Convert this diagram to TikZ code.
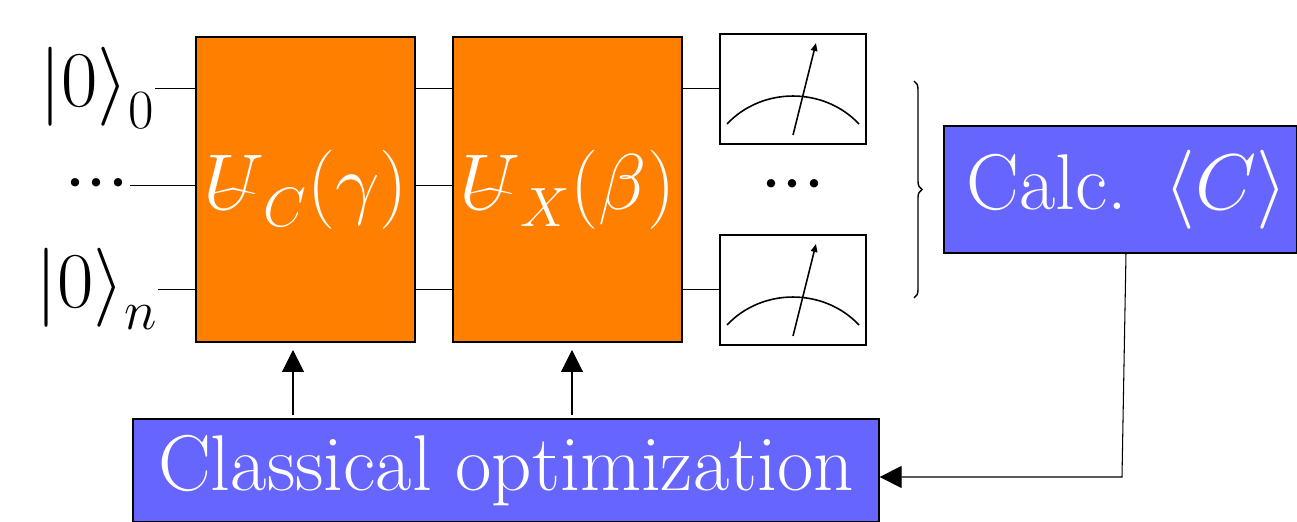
\documentclass[tikz,border=0pt]{standalone}
\usepackage{fix-cm}
\usepackage{amsmath,amssymb}
\usepackage{graphicx}
\usepackage{xcolor}
\usetikzlibrary{arrows.meta,positioning,calc,decorations.pathreplacing}
\definecolor{gateorange}{HTML}{FF8000}
\definecolor{classblue}{HTML}{6666FF}
\newcommand{\flathat}{\mathord{\ooalign{$U$\cr\hidewidth\raisebox{-0.18em}{\scalebox{1}[0.45]{$\widehat{\phantom{U}}$}}\hidewidth\cr}}}
\newcommand{\bigdots}{{\cdot}{\cdot}{\cdot}}
\tikzset{
  gatebox/.style={draw, line width=1.1pt, fill=gateorange, text=white, minimum height=6.1cm, inner sep=0pt},
  classbox/.style={draw, line width=0.7pt, fill=classblue, text=white, inner sep=0pt},
  meterbox/.style={draw, line width=1.1pt, minimum width=2.92cm, minimum height=2.2cm, inner sep=0pt},
  wire/.style={line width=1.1pt},
  feedback/.style={line width=0.6pt, -{Triangle[length=0.44cm,width=0.44cm]}},
}
\begin{document}
\begin{tikzpicture}[x=0.2mm, y=-0.2mm, font=\fontsize{45}{50}\selectfont]
\useasboundingbox (0,0) rectangle (1297,522);
% gates
\node[gatebox, minimum width=4.38cm] (gateC) at (305.5,189.5) {$\flathat_C(\gamma)$};
\node[gatebox, minimum width=4.58cm] (gateX) at (567.5,189.5) {$\flathat_X(\beta)$};
% classical part
\node[classbox, minimum width=14.92cm, minimum height=2.06cm] (optim) at (506,470.5) {Classical optimization};
\node[classbox, minimum width=7.06cm, minimum height=2.54cm] (calc) at (1120.5,189.5) {\hspace*{0.26cm}Calc.\ \,$\langle C\rangle$};
% inputs
\node[anchor=east, inner sep=0pt] (inA) at (155,88) {$\left|0\right\rangle_0$};
\node[anchor=east, inner sep=0pt] (inB) at (158,289) {$\left|0\right\rangle_n$};
\node[inner sep=0pt] (inDots) at (97,185) {$\bigdots$};
% meters
\foreach \name/\y in {meterA/89,meterB/290} {
  \node[meterbox] (\name) at (793,\y) {};
  \begin{scope}[shift={(\name.center)}, line width=0.9pt]
    \draw (-66,35) .. controls (-31,-2.3) and (31,-2.3) .. (66,35);
    \draw[-{Triangle[length=0.16cm,width=0.13cm]}] (0,46) -- (23,-46);
  \end{scope}
}
\node[inner sep=0pt] (outDots) at (793,186) {$\bigdots$};
% wires
\draw[wire] (gateC.west |- 0,88.5) -- (inA.east |- 0,88.5);
\draw[wire] (gateC.west |- 0,289.5) -- (inB.east |- 0,289.5);
\draw[wire] (gateC.west |- 0,185.5) -- (130,185.5);
\foreach \y in {88.5,185.5,289.5} {
  \draw[wire] (gateC.east |- 0,\y) -- (gateX.west |- 0,\y);
}
\draw[wire] (gateX.east |- 0,88.5) -- (meterA.west |- 0,88.5);
\draw[wire] (gateX.east |- 0,289.5) -- (meterB.west |- 0,289.5);
% brace
\draw[line width=0.8pt, decorate, decoration={brace, amplitude=0.16cm}] (914,81) -- (914,298);
% feedback
\coordinate (upC) at (293,415);
\coordinate (upX) at (572,415);
\draw[feedback] (upC) -- (293,350);
\draw[feedback] (upX) -- (572,350);
\coordinate (calcOut) at (1126,253);
\coordinate (turn) at (1122,477);
\draw[feedback] (calcOut) -- (turn) -- (optim.east |- turn);
\end{tikzpicture}
\end{document}
